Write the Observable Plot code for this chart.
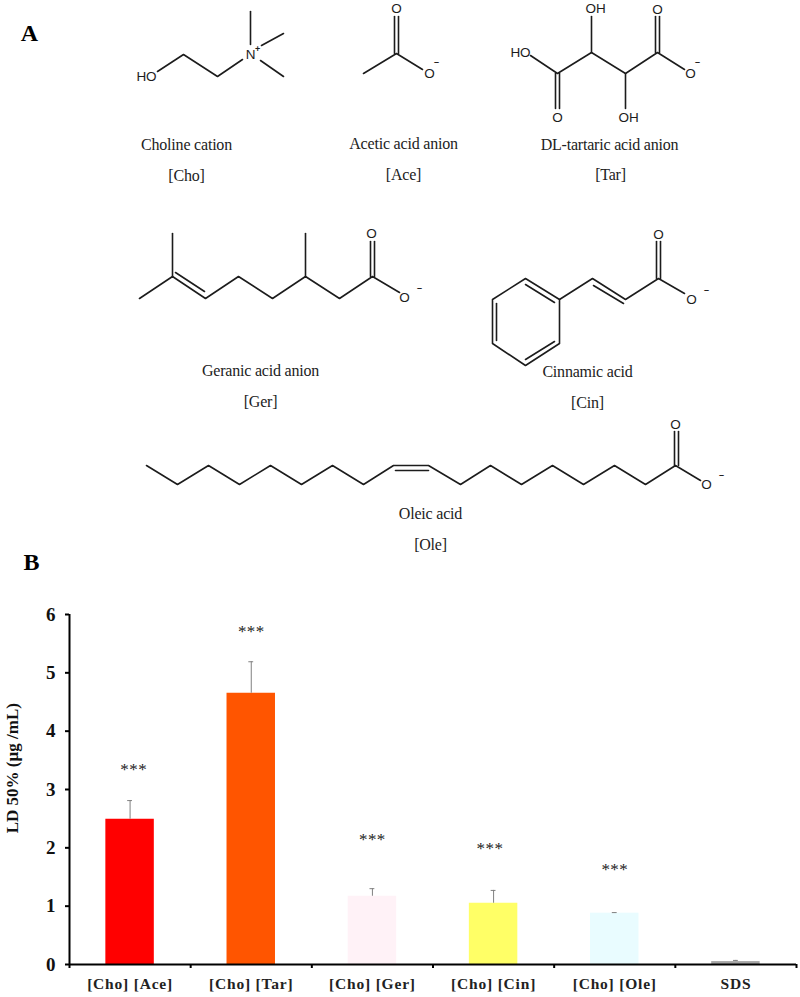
<!DOCTYPE html>
<html>
<head>
<meta charset="utf-8">
<script src="https://cdn.jsdelivr.net/npm/d3@7"></script>
<script src="https://cdn.jsdelivr.net/npm/@observablehq/plot@0.6"></script>
<style>
  html, body { margin: 0; padding: 0; background: #fff; }
  svg { display: block; }
  .cat text { letter-spacing: 0.8px; }
  .stars text { letter-spacing: 0.4px; }
  .caption text { letter-spacing: -0.2px; }
</style>
</head>
<body>
<div id="structures"></div>
<div id="chart"></div>
<script>
// ---- Panel B data ----
const categories = ["[Cho] [Ace]", "[Cho] [Tar]", "[Cho] [Ger]", "[Cho] [Cin]", "[Cho] [Ole]", "SDS"];
const ld50 = [2.49, 4.65, 1.17, 1.05, 0.88, 0.05];
const errorTop = [2.81, 5.19, 1.30, 1.27, 0.89, 0.07];
const barColors = ["#FF0000", "#FF5500", "#FFF2F7", "#FFFF66", "#E9FCFF", "#A6A6A6"];
const starLevels = [3.34, 5.7, 2.14, 1.98, 1.62];
const starSlots = [0.53, 1.5, 2.5, 3.47, 4.5];
const yTicks = [0, 1, 2, 3, 4, 5, 6];
const slotTicks = [0, 1, 2, 3, 4, 5, 6];

// ---- Panel A diagram: skeletal bonds on the picture's own grid ----
const bonds = [
  // choline
  [[157,71],[183,54],[217,76],[242,59]],
  [[250,44],[250,11]], [[261,45],[283,33]], [[260,60],[283,76]],
  // acetate
  [[363,73],[396,53],[422,69]],
  [[394,53],[394,16]], [[398,53],[398,16]],
  // tartrate
  [[530,55],[557,73],[591,52],[625,73],[657,52],[684,69]],
  [[591,52],[591,16]], [[625,73],[625,108]],
  [[555,73],[555,108]], [[559,73],[559,108]],
  [[655,52],[655,16]], [[659,52],[659,16]],
  // geranate
  [[139,298],[172,276],[205,298],[238,276],[272,298],[305,276],[339,298],[372,276],[399,292]],
  [[172,276],[172,233]], [[305,276],[305,233]],
  [[175,272],[204,291]],
  [[370,276],[370,241]], [[374,276],[374,241]],
  // cinnamate
  [[525,278],[559,299],[559,343],[525,365],[492,343],[492,299],[525,278]],
  [[525,284],[554,302]], [[496,303],[496,340]], [[525,359],[554,341]],
  [[559,299],[592,278],[625,299],[658,278],[684,293]],
  [[593,285],[623,303]],
  [[656,278],[656,241]], [[660,278],[660,241]],
  // oleate
  [[146,465],[177,484],[208,465],[239,484],[270,465],[301,484],[332,465],[363,484],[393,465],[428,465],[460,484],[490,465],[521,484],[552,465],[583,484],[614,465],[645,484],[675,465],[700,480]],
  [[395,470],[428,470]],
  [[674,465],[674,431]], [[678,465],[678,431]]
];
const atomLabels = [
  ["HO",146,76],["N",250,54],
  ["O",396,8],["O",429,73],
  ["HO",520,52],["OH",595,8],["O",657,9],["O",690,73],["O",557,117],["OH",628,117],
  ["O",371,233],["O",404,297],
  ["O",658,234],["O",691,299],
  ["O",675,424],["O",706,484]
];
const chargeLabels = [
  ["+",257,49],["–",436,62],["–",697,62],["–",419,288],["–",706,290],["–",721,475]
];
const captions = [
  ["Choline cation",186,144],["[Cho]",186,175],
  ["Acetic acid anion",403,143],["[Ace]",403,174],
  ["DL-tartaric acid anion",609,144],["[Tar]",610,174],
  ["Geranic acid anion",260,370],["[Ger]",260,401],
  ["Cinnamic acid",587,371],["[Cin]",587,402],
  ["Oleic acid",430,513],["[Ole]",430,544]
];
const panelLabels = [["A",29,33],["B",31,562]];

const serif = "'Liberation Serif','Times New Roman',serif";
const sans = "'Liberation Sans',Arial,sans-serif";

const bondPoints = bonds.flatMap((chain, id) => chain.map(([x, y]) => ({id, x, y})));
const asLabel = ([text, x, y]) => ({text, x, y});

const structures = Plot.plot({
  width: 800, height: 600,
  margin: 0,
  x: {domain: [0, 800], range: [0, 800], axis: null},
  y: {domain: [0, 600], range: [0, 600], axis: null},
  style: {background: "#fff"},
  marks: [
    Plot.line(bondPoints, {x: "x", y: "y", z: "id", stroke: "#1c1c1c", strokeWidth: 1.6, curve: "linear"}),
    Plot.text(atomLabels.map(asLabel), {x: "x", y: "y", text: "text", fontFamily: sans, fontSize: 13.5, fill: "#1c1c1c"}),
    Plot.text(chargeLabels.map(asLabel), {x: "x", y: "y", text: "text", fontFamily: sans, fontSize: 9, fontWeight: "bold", fill: "#1c1c1c"}),
    Plot.text(captions.map(asLabel), {x: "x", y: "y", text: "text", fontFamily: serif, fontSize: 16, fill: "#222", className: "caption"}),
    Plot.text(panelLabels.map(asLabel), {x: "x", y: "y", text: "text", fontFamily: serif, fontSize: 24, fontWeight: "bold", fill: "#000"})
  ]
});
document.getElementById("structures").append(structures);

const bars = categories.map((name, i) => ({
  name, slot: i, mid: i + 0.5, value: ld50[i], top: errorTop[i], color: barColors[i]
}));
const stars = starLevels.map((level, i) => ({level, slot: starSlots[i]}));

const chart = Plot.plot({
  width: 800, height: 397,
  marginTop: 14, marginBottom: 33, marginLeft: 69, marginRight: 4,
  x: {domain: [0, 6], axis: null},
  y: {domain: [0, 6], axis: null},
  style: {background: "#fff", fontFamily: serif},
  marks: [
    Plot.rectY(bars, {x1: d => d.slot + 0.3, x2: d => d.slot + 0.7, y1: 0, y2: "value", fill: "color"}),
    Plot.ruleX(bars, {x: "mid", y1: "value", y2: "top", stroke: "#808080", strokeWidth: 1}),
    Plot.ruleY(bars, {y: "top", x1: d => d.mid - 0.02, x2: d => d.mid + 0.02, stroke: "#808080", strokeWidth: 1}),
    Plot.axisY({ticks: yTicks, tickFormat: "d", tickSize: 4, strokeWidth: 2, stroke: "#000", tickPadding: 10, label: null,
      fontSize: 19, fontWeight: "bold", fill: "#111", anchor: "left"}),
    Plot.axisX({ticks: slotTicks, tickSize: 4, strokeWidth: 2, stroke: "#000", tickFormat: () => "", label: null, anchor: "bottom"}),
    Plot.ruleX([0], {y1: 0, y2: 6, stroke: "#000", strokeWidth: 2}),
    Plot.ruleY([0], {x1: 0, x2: 6, stroke: "#000", strokeWidth: 2}),
    Plot.text(bars, {x: "mid", y: 0, text: "name", dy: 20, fontFamily: serif, fontSize: 15.5, fontWeight: "bold", fill: "#222", className: "cat"}),
    Plot.text(stars, {x: "slot", y: "level", text: () => "***", fontFamily: serif, fontSize: 17, fill: "#222", className: "stars"}),
    Plot.text(["LD 50% (µg /mL)"], {frameAnchor: "left", dx: -57, y: 2.25, rotate: -90, fontFamily: serif, fontSize: 17, fontWeight: "bold", fill: "#111"})
  ]
});
document.getElementById("chart").append(chart);
</script>
</body>
</html>
